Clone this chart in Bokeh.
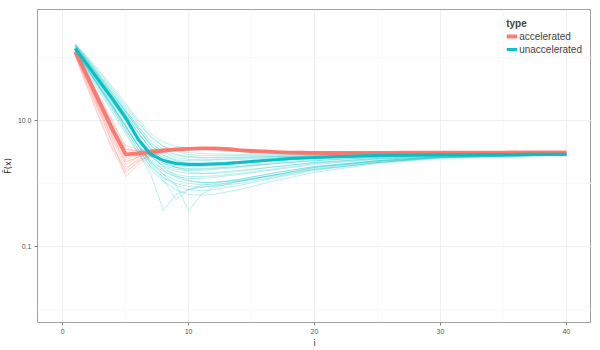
from bokeh.plotting import figure
from bokeh.models import Range1d, FixedTicker, PrintfTickFormatter, Legend, LegendItem
from bokeh.embed import file_html
from bokeh.resources import INLINE

# ---------------- data ----------------
types = ["accelerated", "unaccelerated"]
colors = ["#F8766D", "#00BFC4"]

steps_thin = [1, 2, 3, 4, 5, 6, 7, 8, 9, 10, 11, 12, 14, 17, 20, 25, 30, 40]
steps_mean = list(range(1, 41))

accel_runs = [
    [134, 56, 23, 9.6, 3.73, 3.22, 3.34, 3.47, 3.6, 3.6, 3.6, 3.53, 3.4, 3.22, 3.1, 3.05, 3.1, 3.1],
    [124, 45, 16.1, 6.0, 2.4, 2.8, 3.1, 3.34, 3.47, 3.6, 3.6, 3.6, 3.4, 3.16, 3.05, 3.05, 3.1, 3.1],
    [112, 37, 12.4, 4.2, 1.29, 2.0, 2.68, 3.1, 3.34, 3.47, 3.6, 3.6, 3.45, 3.2, 3.08, 3.05, 3.08, 3.1],
    [120, 52, 21.5, 8.3, 3.22, 3.1, 3.22, 3.34, 3.47, 3.53, 3.6, 3.6, 3.42, 3.18, 3.08, 3.04, 3.08, 3.1],
    [129, 46, 17.3, 7.2, 3.47, 3.34, 3.4, 3.47, 3.6, 3.6, 3.6, 3.6, 3.45, 3.2, 3.1, 3.06, 3.09, 3.11],
    [108, 33, 10.4, 3.47, 1.67, 2.4, 2.89, 3.22, 3.4, 3.53, 3.6, 3.6, 3.44, 3.2, 3.08, 3.04, 3.08, 3.1],
    [116, 42, 13.9, 5.0, 2.0, 2.6, 3.0, 3.22, 3.47, 3.53, 3.6, 3.6, 3.46, 3.22, 3.1, 3.06, 3.09, 3.11],
    [124, 50, 19.3, 7.7, 2.89, 2.89, 3.1, 3.28, 3.47, 3.53, 3.6, 3.6, 3.44, 3.2, 3.09, 3.05, 3.09, 3.1],
    [104, 31, 9.6, 3.22, 1.44, 2.24, 2.78, 3.1, 3.34, 3.47, 3.6, 3.6, 3.46, 3.22, 3.1, 3.06, 3.08, 3.11],
    [134, 54, 20.7, 9.0, 4.0, 3.47, 3.47, 3.53, 3.6, 3.6, 3.66, 3.66, 3.5, 3.25, 3.12, 3.07, 3.1, 3.12],
    [112, 39, 13.4, 4.64, 1.8, 2.3, 2.89, 3.22, 3.4, 3.53, 3.6, 3.6, 3.43, 3.19, 3.08, 3.05, 3.08, 3.1],
    [120, 43, 15.5, 5.6, 2.15, 2.68, 2.99, 3.22, 3.47, 3.53, 3.6, 3.6, 3.45, 3.21, 3.09, 3.06, 3.09, 3.11],
    [129, 50, 18.6, 6.9, 2.78, 2.78, 3.05, 3.28, 3.47, 3.53, 3.6, 3.6, 3.45, 3.2, 3.09, 3.05, 3.08, 3.1],
    [116, 40, 14.4, 5.2, 2.24, 2.6, 2.99, 3.22, 3.4, 3.53, 3.6, 3.6, 3.44, 3.2, 3.08, 3.05, 3.09, 3.1],
    [124, 46, 16.7, 6.2, 2.6, 2.89, 3.1, 3.34, 3.47, 3.53, 3.6, 3.6, 3.45, 3.21, 3.1, 3.06, 3.09, 3.11],
    [108, 36, 12.0, 4.0, 1.55, 2.15, 2.78, 3.16, 3.4, 3.53, 3.6, 3.6, 3.46, 3.22, 3.1, 3.06, 3.09, 3.11],
    [134, 52, 20, 8.0, 3.47, 3.22, 3.34, 3.47, 3.6, 3.6, 3.6, 3.6, 3.45, 3.2, 3.09, 3.05, 3.08, 3.1],
]

unaccel_runs = [
    [161, 93, 52, 29, 16.1, 9.0, 5.4, 3.9, 3.34, 3.1, 2.99, 2.94, 2.89, 2.89, 2.89, 2.89, 2.89, 2.89],
    [150, 83, 45, 24, 13.4, 7.2, 4.3, 3.2, 2.8, 2.6, 2.55, 2.55, 2.6, 2.7, 2.74, 2.84, 2.89, 2.9],
    [144, 77, 42, 21.5, 11.2, 5.6, 3.2, 2.4, 2.15, 2.08, 2.08, 2.1, 2.24, 2.4, 2.6, 2.8, 2.85, 2.9],
    [134, 69, 36, 18.6, 9.6, 4.8, 2.7, 1.93, 1.67, 1.61, 1.61, 1.67, 1.8, 2.08, 2.3, 2.6, 2.8, 2.9],
    [124, 64, 32, 16.1, 8.0, 3.9, 2.15, 1.55, 1.29, 1.2, 1.2, 1.25, 1.39, 1.67, 2.0, 2.4, 2.7, 2.85],
    [139, 75, 40, 21.5, 11.6, 6.2, 3.6, 2.6, 2.24, 2.08, 2.0, 2.0, 2.08, 2.3, 2.5, 2.7, 2.8, 2.9],
    [155, 86, 48, 26, 14.4, 8.0, 4.8, 3.47, 2.9, 2.7, 2.6, 2.6, 2.63, 2.68, 2.78, 2.84, 2.89, 2.9],
    [129, 67, 33, 16.7, 8.3, 4.0, 2.0, 1.25, 0.93, 0.8, 0.77, 0.8, 0.93, 1.25, 1.6, 2.15, 2.6, 2.85],
    [120, 60, 29, 13.9, 6.7, 3.1, 1.39, 0.37, 0.67, 0.8, 0.87, 0.93, 1.08, 1.39, 1.8, 2.24, 2.6, 2.85],
    [134, 69, 35, 17.3, 8.6, 4.2, 2.24, 1.39, 0.96, 0.37, 0.67, 0.87, 1.08, 1.39, 1.8, 2.3, 2.65, 2.85],
    [144, 80, 43, 23, 12.4, 6.45, 3.47, 2.3, 1.8, 1.55, 1.44, 1.44, 1.55, 1.86, 2.15, 2.5, 2.75, 2.9],
    [150, 86, 46, 25, 13.9, 7.5, 4.0, 2.8, 2.4, 2.3, 2.3, 2.36, 2.4, 2.55, 2.68, 2.78, 2.85, 2.9],
    [116, 56, 27, 12.9, 6.2, 3.0, 1.67, 1.08, 0.8, 0.67, 0.65, 0.67, 0.8, 1.12, 1.5, 2.08, 2.5, 2.8],
    [139, 72, 37, 19.3, 10.0, 5.0, 2.9, 2.08, 1.8, 1.73, 1.73, 1.77, 1.86, 2.08, 2.3, 2.6, 2.8, 2.9],
    [155, 90, 50, 28, 15.0, 8.0, 4.5, 3.1, 2.6, 2.4, 2.4, 2.4, 2.5, 2.63, 2.74, 2.84, 2.89, 2.9],
    [129, 64, 32, 16.1, 8.0, 4.0, 2.3, 1.67, 1.39, 1.29, 1.29, 1.32, 1.44, 1.73, 2.08, 2.45, 2.7, 2.85],
    [124, 62, 31, 15.0, 7.2, 3.47, 1.8, 1.16, 0.56, 0.8, 0.93, 1.0, 1.16, 1.5, 1.86, 2.3, 2.65, 2.85],
    [167, 100, 58, 33, 18.6, 10.4, 6.2, 4.5, 3.87, 3.6, 3.47, 3.34, 3.22, 3.1, 2.99, 2.94, 2.89, 2.9],
    [144, 75, 39, 20, 10.4, 5.2, 2.8, 1.8, 1.34, 1.12, 1.04, 1.04, 1.16, 1.5, 1.86, 2.3, 2.7, 2.85],
    [134, 72, 37, 19.3, 10.0, 5.2, 2.9, 2.08, 1.8, 1.67, 1.67, 1.73, 1.86, 2.15, 2.4, 2.63, 2.8, 2.9],
    [161, 90, 48, 26, 13.9, 7.2, 4.0, 2.8, 2.32, 2.15, 2.12, 2.15, 2.24, 2.4, 2.6, 2.8, 2.85, 2.9],
    [150, 80, 42, 21.5, 10.8, 5.4, 3.1, 2.24, 1.93, 1.86, 1.86, 1.93, 2.08, 2.32, 2.5, 2.68, 2.85, 2.9],
    [139, 75, 39, 20, 10.0, 4.8, 2.5, 1.61, 1.25, 1.08, 1.04, 1.04, 1.12, 1.39, 1.73, 2.24, 2.6, 2.85],
    [155, 83, 45, 24, 12.4, 6.45, 3.6, 2.5, 2.08, 1.93, 1.93, 1.97, 2.08, 2.32, 2.55, 2.74, 2.85, 2.9],
    [129, 64, 31, 15.0, 7.2, 3.47, 1.86, 1.25, 1.0, 0.9, 0.87, 0.9, 1.0, 1.29, 1.67, 2.15, 2.55, 2.85],
    [161, 96, 56, 31, 17.3, 9.6, 5.6, 3.87, 3.22, 2.89, 2.78, 2.78, 2.78, 2.78, 2.84, 2.89, 2.89, 2.9],
    [134, 67, 33, 16.7, 8.0, 3.9, 2.08, 1.39, 1.12, 1.0, 0.96, 0.96, 1.08, 1.34, 1.67, 2.15, 2.6, 2.85],
    [144, 77, 40, 20.7, 10.4, 5.0, 2.68, 1.86, 1.55, 1.44, 1.44, 1.5, 1.61, 1.86, 2.15, 2.5, 2.75, 2.9],
]

accel_mean = [124, 48, 18, 6.9, 2.9, 3.0, 3.17, 3.34, 3.47, 3.55, 3.6, 3.6, 3.53, 3.4, 3.28,
              3.22, 3.16, 3.1, 3.08, 3.05, 3.05, 3.05, 3.06, 3.06, 3.07, 3.07, 3.08, 3.08,
              3.09, 3.09, 3.1, 3.1, 3.1, 3.1, 3.1, 3.11, 3.11, 3.11, 3.12, 3.12]
unaccel_mean = [139, 75, 40, 21.5, 11.2, 5.0, 2.89, 2.32, 2.08, 2.0, 2.0, 2.04, 2.08, 2.16,
                2.24, 2.32, 2.4, 2.49, 2.54, 2.59, 2.64, 2.69, 2.72, 2.75, 2.78, 2.8, 2.82,
                2.83, 2.84, 2.85, 2.86, 2.87, 2.88, 2.88, 2.89, 2.89, 2.9, 2.9, 2.91, 2.91]

x_ticks = [0, 10, 20, 30, 40]
x_minor = [5, 15, 25, 35]
y_ticks = [0.1, 10.0]
y_minor = [0.01, 1.0, 100.0]

# ---------------- figure ----------------
FONT = "Liberation Sans"
p = figure(frame_width=554, frame_height=313, y_axis_type="log",
           x_range=Range1d(-2, 42), y_range=Range1d(0.00622, 578),
           output_backend="svg", toolbar_location=None,
           min_border_left=0, min_border_right=0, min_border_top=9, min_border_bottom=0,
           background_fill_color="white", border_fill_color="white")

p.outline_line_color = "#a0a0a0"
p.outline_line_width = 1

p.xaxis.ticker = FixedTicker(ticks=x_ticks, minor_ticks=x_minor)
p.yaxis.ticker = FixedTicker(ticks=y_ticks, minor_ticks=y_minor)
p.yaxis.formatter = PrintfTickFormatter(format="%.1f")

for ax in (p.xaxis[0], p.yaxis[0]):
    ax.axis_line_color = None
    ax.major_tick_line_color = "#7f7f7f"
    ax.major_tick_out = 3
    ax.major_tick_in = 0
    ax.minor_tick_line_color = None
    ax.major_label_text_font = FONT
    ax.major_label_text_font_size = "7px"
    ax.major_label_text_color = "#555555"
    ax.major_label_standoff = 2
    ax.axis_label_text_font = "DejaVu Sans"
    ax.axis_label_text_font_size = "8px"
    ax.axis_label_text_font_style = "normal"
    ax.axis_label_text_color = "#222222"
    ax.axis_label_standoff = 2

p.xaxis.axis_label = "i"
p.yaxis.axis_label = "F\u0303(x)"

for g in (p.xgrid[0], p.ygrid[0]):
    g.grid_line_color = "#ececec"
    g.grid_line_width = 0.8
    g.minor_grid_line_color = "#f7f7f7"
    g.minor_grid_line_width = 0.8

# thin individual runs
p.multi_line(xs=[steps_thin] * len(accel_runs), ys=accel_runs,
             line_color=colors[0], line_alpha=0.3, line_width=0.9)
p.multi_line(xs=[steps_thin] * len(unaccel_runs), ys=unaccel_runs,
             line_color=colors[1], line_alpha=0.3, line_width=0.9)

# thick mean lines
r_acc = p.line(steps_mean, accel_mean, line_color=colors[0], line_width=3.8, line_alpha=0.95)
r_una = p.line(steps_mean, unaccel_mean, line_color=colors[1], line_width=3.0, line_alpha=0.95)

legend = Legend(items=[LegendItem(label=types[0], renderers=[r_acc]),
                       LegendItem(label=types[1], renderers=[r_una])],
                location="top_right", title="type")
legend.title_text_font = FONT
legend.title_text_font_style = "bold"
legend.title_text_font_size = "10px"
legend.title_standoff = 1
legend.label_text_font = FONT
legend.label_text_font_size = "10px"
legend.label_standoff = 2
legend.label_height = 12
legend.glyph_width = 11
legend.glyph_height = 12
legend.spacing = 1
legend.padding = 2
legend.margin = 9
legend.border_line_color = None
legend.background_fill_alpha = 0
p.add_layout(legend)

open("out.html", "w").write(file_html(p, INLINE))
